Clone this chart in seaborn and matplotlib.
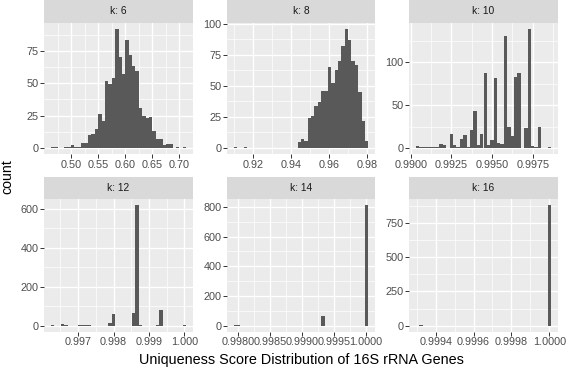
import numpy as np
import pandas as pd
import matplotlib
matplotlib.use("Agg")
import matplotlib.pyplot as plt
import seaborn as sns

# histogram bin counts (40 bins per facet)
k_values = [6, 8, 10, 12, 14, 16]

k6_range = (0.4625, 0.7125)
k6_counts = [1, 1, 0, 0, 1, 1, 2, 1, 1, 4,
             4, 10, 11, 15, 26, 21, 52, 49, 54, 92,
             70, 57, 83, 72, 63, 59, 31, 25, 23, 24,
             13, 7, 7, 2, 3, 3, 0, 1, 0, 1]

k8_range = (0.9100, 0.9805)
k8_counts = [1, 0, 0, 1, 0, 0, 0, 0, 0, 0,
             0, 0, 0, 0, 0, 0, 0, 0, 0, 5,
             7, 6, 24, 26, 34, 37, 46, 46, 65, 52,
             63, 70, 82, 96, 87, 70, 67, 45, 22, 6]

k10_range = (0.99031, 0.99863)
k10_counts = [2, 1, 1, 1, 1, 1, 1, 5, 4, 0,
              16, 4, 1, 10, 15, 1, 21, 43, 4, 16,
              87, 3, 9, 82, 6, 5, 130, 24, 14, 83,
              87, 0, 23, 139, 2, 1, 25, 0, 0, 1]

k12_range = (0.99623, 1.00005)
k12_counts = [1, 0, 0, 7, 3, 0, 0, 0, 2, 2,
              2, 1, 0, 0, 0, 0, 0, 16, 62, 0,
              0, 0, 0, 0, 67, 617, 1, 0, 0, 0,
              0, 3, 78, 0, 0, 0, 0, 0, 0, 1]

k14_range = (0.997933, 1.000033)
k14_counts = [3, 2, 0, 0, 0, 0, 0, 0, 0, 0,
              0, 0, 0, 0, 1, 0, 0, 0, 0, 0,
              0, 0, 0, 0, 0, 1, 63, 0, 0, 0,
              0, 0, 0, 0, 0, 0, 0, 0, 0, 810]

k16_range = (0.999295, 1.000010)
k16_counts = [0, 3, 0, 0, 0, 0, 0, 0, 0, 0,
              0, 0, 0, 0, 0, 0, 0, 0, 0, 0,
              0, 0, 0, 0, 0, 0, 0, 0, 0, 0,
              0, 0, 0, 0, 0, 0, 0, 0, 0, 880]

k6_xticks = ["0.50", "0.55", "0.60", "0.65", "0.70"]
k8_xticks = ["0.92", "0.94", "0.96", "0.98"]
k10_xticks = ["0.9900", "0.9925", "0.9950", "0.9975"]
k12_xticks = ["0.997", "0.998", "0.999", "1.000"]
k14_xticks = ["0.9980", "0.9985", "0.9990", "0.9995", "1.0000"]
k16_xticks = ["0.9994", "0.9996", "0.9998", "1.0000"]

k6_yticks = [0, 25, 50, 75]
k8_yticks = [0, 25, 50, 75, 100]
k10_yticks = [0, 50, 100]
k12_yticks = [0, 200, 400, 600]
k14_yticks = [0, 200, 400, 600, 800]
k16_yticks = [0, 250, 500, 750]

x_title = "Uniqueness Score Distribution of 16S rRNA Genes"
y_title = "count"

panels = [
    (k6_range, k6_counts, k6_xticks, k6_yticks),
    (k8_range, k8_counts, k8_xticks, k8_yticks),
    (k10_range, k10_counts, k10_xticks, k10_yticks),
    (k12_range, k12_counts, k12_xticks, k12_yticks),
    (k14_range, k14_counts, k14_xticks, k14_yticks),
    (k16_range, k16_counts, k16_xticks, k16_yticks),
]

sns.set_theme(style="darkgrid")
plt.rcParams["font.family"] = ["Liberation Sans", "DejaVu Sans"]

W, H = 567, 367
BAR = "#595959"
PANEL_BG = "#EBEBEB"
STRIP_BG = "#D9D9D9"

cols = [(44, 193), (227, 375), (409, 558)]
rows = [(22.7, 154), (199.3, 331.7)]
strips = [(0, 22.7), (176.7, 199.3)]


def box(x0, y0, x1, y1):
    return [x0 / W, 1 - y1 / H, (x1 - x0) / W, (y1 - y0) / H]


def minor_between(ticks, lo, hi):
    step = ticks[1] - ticks[0]
    m = np.arange(ticks[0] - step / 2, hi + step, step)
    return m[(m > lo) & (m < hi)]


fig = plt.figure(figsize=(W / 100, H / 100), dpi=100)

for i, (rng, counts, xt, yt) in enumerate(panels):
    r, c = divmod(i, 3)
    x0, x1 = cols[c]
    y0, y1 = rows[r]
    ax = fig.add_axes(box(x0, y0, x1, y1))
    ax.set_facecolor(PANEL_BG)

    edges = np.linspace(rng[0], rng[1], len(counts) + 1)
    df = pd.DataFrame({"score": (edges[:-1] + edges[1:]) / 2, "n": counts})
    sns.histplot(data=df, x="score", weights="n", bins=edges.tolist(), ax=ax,
                 color=BAR, alpha=1, linewidth=0)

    span = rng[1] - rng[0]
    xlo, xhi = rng[0] - 0.05 * span, rng[1] + 0.05 * span
    ymax = max(counts)
    ylo, yhi = -0.05 * ymax, 1.05 * ymax
    ax.set_xlim(xlo, xhi)
    ax.set_ylim(ylo, yhi)

    xvals = [float(s) for s in xt]
    ax.set_xticks(xvals)
    ax.set_xticklabels(xt)
    ax.set_yticks(yt)
    ax.set_xticks(minor_between(xvals, xlo, xhi), minor=True)
    ax.set_yticks(minor_between(yt, ylo, yhi), minor=True)

    ax.set_axisbelow(True)
    ax.grid(True, which="major", color="white", linewidth=1.0)
    ax.grid(True, which="minor", color="white", linewidth=0.5)
    for s in ax.spines.values():
        s.set_visible(False)
    ax.tick_params(which="major", length=2.6, width=0.7, color="#333333",
                   labelcolor="#4D4D4D", labelsize=7.8, pad=1.5,
                   bottom=True, left=True)
    ax.tick_params(which="minor", length=0)
    ax.set_xlabel("")
    ax.set_ylabel("")

    sy0, sy1 = strips[r]
    sax = fig.add_axes(box(x0, sy0, x1, sy1))
    sax.set_facecolor(STRIP_BG)
    sax.set_xticks([])
    sax.set_yticks([])
    sax.grid(False)
    for s in sax.spines.values():
        s.set_visible(False)
    sax.text(0.5, 0.5, f"k: {k_values[i]}", ha="center", va="center",
             fontsize=7.4, color="#1A1A1A", transform=sax.transAxes)

fig.text(301 / W, 1 - 364 / H, x_title, ha="center", va="baseline",
         fontsize=10.4, color="black")
fig.text(7 / W, 1 - 177 / H, y_title, ha="center", va="center",
         rotation=90, fontsize=10.2, color="black")

fig.savefig("out.png", dpi=100, facecolor="white")
